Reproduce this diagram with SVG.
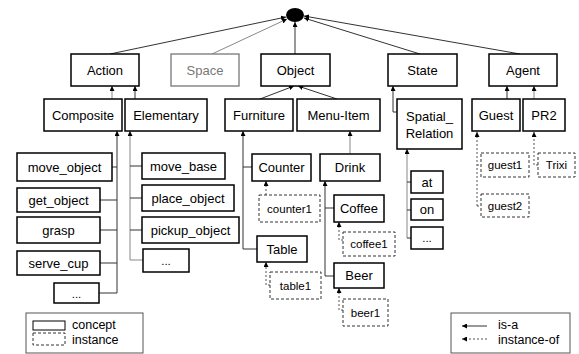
<svg xmlns="http://www.w3.org/2000/svg" width="579" height="354" viewBox="0 0 579 354">
<defs>
<marker id="ah" markerWidth="5" markerHeight="5" refX="5" refY="2.5" orient="auto" markerUnits="userSpaceOnUse"><path d="M0,0 L5,2.5 L0,5 z" fill="#000"/></marker>
<style>
.n{fill:#fff;stroke:#000;stroke-width:1.5}
.g{fill:#fff;stroke:#777;stroke-width:1.3}
.i{fill:#fff;stroke:#333;stroke-width:1;stroke-dasharray:3 2}
.t{font-family:"Liberation Sans",Arial,sans-serif;font-size:13px;text-anchor:middle;dominant-baseline:central;fill:#000}
.ti{font-family:"Liberation Sans",Arial,sans-serif;font-size:11.5px;text-anchor:middle;dominant-baseline:central;fill:#000}
.tl{font-family:"Liberation Sans",Arial,sans-serif;font-size:12.5px;dominant-baseline:central;fill:#000}
.c{fill:none;stroke:#333;stroke-width:1}
.cg{fill:none;stroke:#888;stroke-width:1}
.d{fill:none;stroke:#555;stroke-width:1;stroke-dasharray:2 2}
.a{marker-end:url(#ah)}
</style>
</defs>
<g id="connectors">
<path class="c a" d="M110,54 L286,17"/>
<path class="cg a" d="M212,54 L287,19"/>
<path class="c a" d="M295,54 L295,22"/>
<path class="c a" d="M420,54 L304,18"/>
<path class="c a" d="M520,54 L304,16"/>
<path class="cg a" d="M112,99 L112,86"/>
<path class="c a" d="M135,99 L135,86"/>
<path class="c a" d="M260,99 L294,86"/>
<path class="c a" d="M337,99 L298,86"/>
<path class="c a" d="M397,112 L393,112 L393,86"/>
<path class="c a" d="M507,99 L507,86"/>
<path class="cg a" d="M534,99 L534,86"/>
<path class="c a" d="M117,293 L117,131"/>
<path class="c" d="M112,167 H117 M100,200 H117 M100,230 H117 M100,263 H117 M99,293 H117"/>
<path class="cg a" d="M130,260 L130,131"/>
<path class="c" d="M130,166 H142 M130,198 H142 M130,230 H142"/>
<path class="cg" d="M130,260 H143"/>
<path class="c a" d="M243,249 L243,131"/>
<path class="c" d="M243,167 H252 M243,249 H257"/>
<path class="d a" d="M266,195 L266,181"/>
<path class="d a" d="M270,285 L266,285 L266,262"/>
<path class="cg a" d="M350,154 L350,131"/>
<path class="c a" d="M325,276 L325,181"/>
<path class="c" d="M325,208 H334 M325,276 H334"/>
<path class="d a" d="M343,240 L339,240 L339,222"/>
<path class="d a" d="M343,310 L339,310 L339,288"/>
<path class="cg a" d="M407,238 L407,149"/>
<path class="c" d="M407,182 H411 M407,210 H411 M407,238 H411"/>
<path class="d a" d="M477,206 L477,132"/>
<path class="d" d="M477,165 H481 M477,206 H481"/>
<path class="d a" d="M538,165 L534,165 L534,132"/>
</g>
<g id="root"><ellipse cx="295" cy="15" rx="9" ry="7" fill="#000"/></g>
<g id="action"><rect class="n" x="71" y="54" width="68" height="32"/><text class="t" x="105" y="70">Action</text></g>
<g id="space"><rect class="g" x="171" y="54" width="68" height="32"/><text class="t" x="205" y="70" style="fill:#777">Space</text></g>
<g id="object"><rect class="n" x="261" y="54" width="69" height="32"/><text class="t" x="295.5" y="70">Object</text></g>
<g id="state"><rect class="n" x="388" y="54" width="69" height="32"/><text class="t" x="422.5" y="70">State</text></g>
<g id="agent"><rect class="n" x="489" y="54" width="68" height="32"/><text class="t" x="523" y="70">Agent</text></g>
<g id="composite"><rect class="n" x="44" y="99" width="78" height="32"/><text class="t" x="83" y="115">Composite</text></g>
<g id="elementary"><rect class="n" x="125" y="99" width="82" height="32"/><text class="t" x="166" y="115">Elementary</text></g>
<g id="furniture"><rect class="n" x="225" y="99" width="68" height="32"/><text class="t" x="259" y="115">Furniture</text></g>
<g id="menu-item"><rect class="n" x="297" y="99" width="83" height="32"/><text class="t" x="338.5" y="115">Menu-Item</text></g>
<g id="spatial-relation"><rect class="n" x="397" y="99" width="65" height="50"/><text class="t" x="429.5" y="116">Spatial_</text><text class="t" x="429.5" y="133">Relation</text></g>
<g id="guest"><rect class="n" x="472" y="99" width="48" height="32"/><text class="t" x="496" y="115">Guest</text></g>
<g id="pr2"><rect class="n" x="523" y="99" width="42" height="32"/><text class="t" x="544" y="115">PR2</text></g>
<g id="move_object"><rect class="n" x="17" y="153" width="95" height="28"/><text class="t" x="64.5" y="167">move_object</text></g>
<g id="get_object"><rect class="n" x="17" y="188" width="83" height="24"/><text class="t" x="58.5" y="200">get_object</text></g>
<g id="grasp"><rect class="n" x="17" y="217" width="83" height="26"/><text class="t" x="58.5" y="230">grasp</text></g>
<g id="serve_cup"><rect class="n" x="17" y="251" width="83" height="24"/><text class="t" x="58.5" y="263">serve_cup</text></g>
<g id="composite-more"><rect class="n" x="54" y="283" width="45" height="20"/><text class="ti" x="76.5" y="294">...</text></g>
<g id="move_base"><rect class="n" x="142" y="153" width="83" height="26"/><text class="t" x="183.5" y="166">move_base</text></g>
<g id="place_object"><rect class="n" x="142" y="185" width="92" height="26"/><text class="t" x="188" y="198">place_object</text></g>
<g id="pickup_object"><rect class="n" x="142" y="217" width="97" height="26"/><text class="t" x="190.5" y="230">pickup_object</text></g>
<g id="elementary-more"><rect class="n" x="143" y="249" width="46" height="23"/><text class="ti" x="166" y="261">...</text></g>
<g id="counter"><rect class="n" x="252" y="154" width="59" height="27"/><text class="t" x="281.5" y="167.5">Counter</text></g>
<g id="counter1"><rect class="i" x="259" y="195" width="61" height="27"/><text class="ti" x="289.5" y="208.5">counter1</text></g>
<g id="table"><rect class="n" x="257" y="236" width="50" height="26"/><text class="t" x="282" y="249">Table</text></g>
<g id="table1"><rect class="i" x="270" y="272" width="51" height="27"/><text class="ti" x="295.5" y="285.5">table1</text></g>
<g id="drink"><rect class="n" x="320" y="154" width="60" height="27"/><text class="t" x="350" y="167.5">Drink</text></g>
<g id="coffee"><rect class="n" x="334" y="195" width="50" height="27"/><text class="t" x="359" y="208.5">Coffee</text></g>
<g id="coffee1"><rect class="i" x="343" y="232" width="52" height="24"/><text class="ti" x="369" y="244">coffee1</text></g>
<g id="beer"><rect class="n" x="334" y="263" width="50" height="25"/><text class="t" x="359" y="275.5">Beer</text></g>
<g id="beer1"><rect class="i" x="343" y="299" width="45" height="27"/><text class="ti" x="365.5" y="312.5">beer1</text></g>
<g id="at"><rect class="n" x="411" y="171" width="32" height="22"/><text class="t" x="427" y="182">at</text></g>
<g id="on"><rect class="n" x="411" y="199" width="32" height="21"/><text class="t" x="427" y="209.5">on</text></g>
<g id="relation-more"><rect class="n" x="411" y="227" width="32" height="22"/><text class="ti" x="427" y="238">...</text></g>
<g id="guest1"><rect class="i" x="481" y="153" width="48" height="24"/><text class="ti" x="505" y="165">guest1</text></g>
<g id="guest2"><rect class="i" x="481" y="194" width="48" height="23"/><text class="ti" x="505" y="205.5">guest2</text></g>
<g id="trixi"><rect class="i" x="538" y="153" width="37" height="24"/><text class="ti" x="556.5" y="165">Trixi</text></g>
<g id="legend-nodes"><rect x="26" y="313" width="117" height="40" fill="#fff" stroke="#555" stroke-width="1"/><rect x="33" y="321" width="32" height="9" fill="none" stroke="#000" stroke-width="1"/><rect class="i" x="33" y="333" width="32" height="12" style="fill:none"/><text class="tl" x="72" y="325">concept</text><text class="tl" x="72" y="339.5">instance</text></g>
<g id="legend-edges"><rect x="451" y="313" width="119" height="40" fill="#fff" stroke="#555" stroke-width="1"/><path class="c a" d="M487,326 L462,326"/><path class="d a" d="M487,339 L462,339"/><text class="tl" x="498" y="325">is-a</text><text class="tl" x="498" y="339.5">instance-of</text></g>
</svg>
